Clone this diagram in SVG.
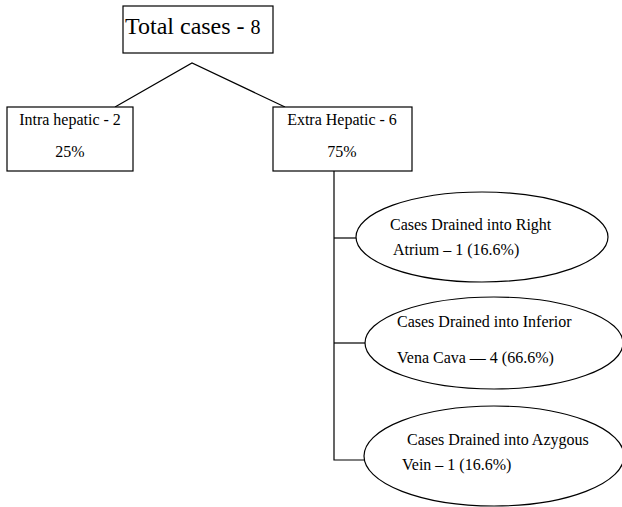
<svg xmlns="http://www.w3.org/2000/svg" width="622" height="507" viewBox="0 0 622 507">
<style>
.box{fill:#fff;stroke:#000;stroke-width:1.2}
.ell{fill:#fff;stroke:#000;stroke-width:1.2}
.ln{fill:none;stroke:#000;stroke-width:1.2}
text{font-family:"Liberation Serif","Times New Roman",serif;fill:#000}
.s{font-size:16px}
.m{font-size:16px}
</style>
<rect width="622" height="507" fill="#fff"/>
<g id="connectors">
<polyline class="ln" points="115,107 192,63 285,107"/>
<polyline class="ln" points="334,171 334,460 365,460"/>
<line class="ln" x1="334" y1="238" x2="357" y2="238"/>
<line class="ln" x1="334" y1="343" x2="366" y2="343"/>
</g>
<g id="total">
<rect class="box" x="123" y="6" width="150" height="47"/>
<text x="125" y="34" font-size="24">Total cases - <tspan font-size="20">8</tspan></text>
</g>
<g id="intra">
<rect class="box" x="7" y="107" width="126" height="64"/>
<text class="s" x="70" y="125" text-anchor="middle">Intra hepatic - 2</text>
<text class="s" x="70" y="157" text-anchor="middle">25%</text>
</g>
<g id="extra">
<rect class="box" x="273" y="107" width="139" height="64"/>
<text class="s" x="342" y="125" text-anchor="middle">Extra Hepatic - 6</text>
<text class="s" x="342" y="157" text-anchor="middle">75%</text>
</g>
<g id="right-atrium">
<ellipse class="ell" cx="482" cy="237" rx="126" ry="45"/>
<text class="m" x="390" y="230">Cases Drained into Right</text>
<text class="m" x="393" y="255">Atrium – 1 (16.6%)</text>
</g>
<g id="ivc">
<ellipse class="ell" cx="494" cy="343" rx="129" ry="46"/>
<text class="m" x="397" y="327">Cases Drained into Inferior</text>
<text class="m" x="397" y="363">Vena Cava — 4 (66.6%)</text>
</g>
<g id="azygous">
<ellipse class="ell" cx="494" cy="456" rx="130" ry="50"/>
<text class="m" x="407" y="445">Cases Drained into Azygous</text>
<text class="m" x="402" y="470">Vein – 1 (16.6%)</text>
</g>
</svg>
